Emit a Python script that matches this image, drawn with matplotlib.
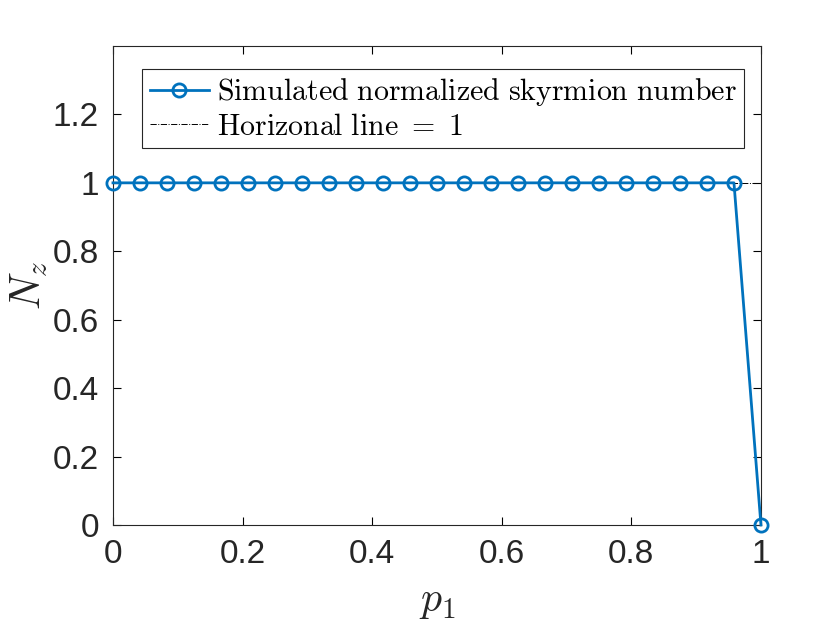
import numpy as np
import matplotlib
matplotlib.use('Agg')
import matplotlib.pyplot as plt

plt.rcParams['mathtext.fontset'] = 'cm'
plt.rcParams['font.family'] = ['Liberation Sans', 'DejaVu Sans']

# datos
p1 = [i / 24 for i in range(25)]
nz = [1] * 24 + [0]
xticks = [0, 0.2, 0.4, 0.6, 0.8, 1]
xlabels = ['0', '0.2', '0.4', '0.6', '0.8', '1']
yticks = [0, 0.2, 0.4, 0.6, 0.8, 1, 1.2]
ylabels = ['0', '0.2', '0.4', '0.6', '0.8', '1', '1.2']

azul = '#0072BD'
gris = '#262626'

fig = plt.figure(figsize=(8.4, 6.3), dpi=100)
ax = fig.add_axes([0.1345, 0.1667, 0.7714, 0.7603])

ax.plot(p1, nz, '-o', color=azul, lw=2, ms=9.5, mew=2, mfc='none', clip_on=False,
        label=r'$\mathrm{Simulated\ normalized\ skyrmion\ number}$', zorder=3)
ax.axhline(1, color='black', lw=0.7, ls='-.',
           label=r'$\mathrm{Horizonal\ line}\ =\ 1$', zorder=2)

ax.set_xlim(0, 1)
ax.set_ylim(0, 1.4)
ax.set_xticks(xticks)
ax.set_xticklabels(xlabels)
ax.set_yticks(yticks)
ax.set_yticklabels(ylabels)
ax.tick_params(direction='in', length=6, width=0.8, top=True, right=True,
               labelsize=24, labelcolor=gris, pad=10)
for s in ax.spines.values():
    s.set_color(gris)
    s.set_linewidth(0.8)

ax.set_xlabel(r'$p_1$', fontsize=30, color=gris, labelpad=8)
ax.set_ylabel(r'$N_z$', fontsize=30, color=gris, labelpad=2)

leg = ax.legend(loc='upper right', bbox_to_anchor=(0.974, 0.952), fontsize=21.5,
                frameon=True, fancybox=False, edgecolor=gris, framealpha=1,
                borderpad=0.25, labelspacing=0.15, handlelength=2.0,
                handletextpad=0.25, borderaxespad=0)
leg.get_frame().set_linewidth(0.8)

fig.savefig('out.png', dpi=100)
